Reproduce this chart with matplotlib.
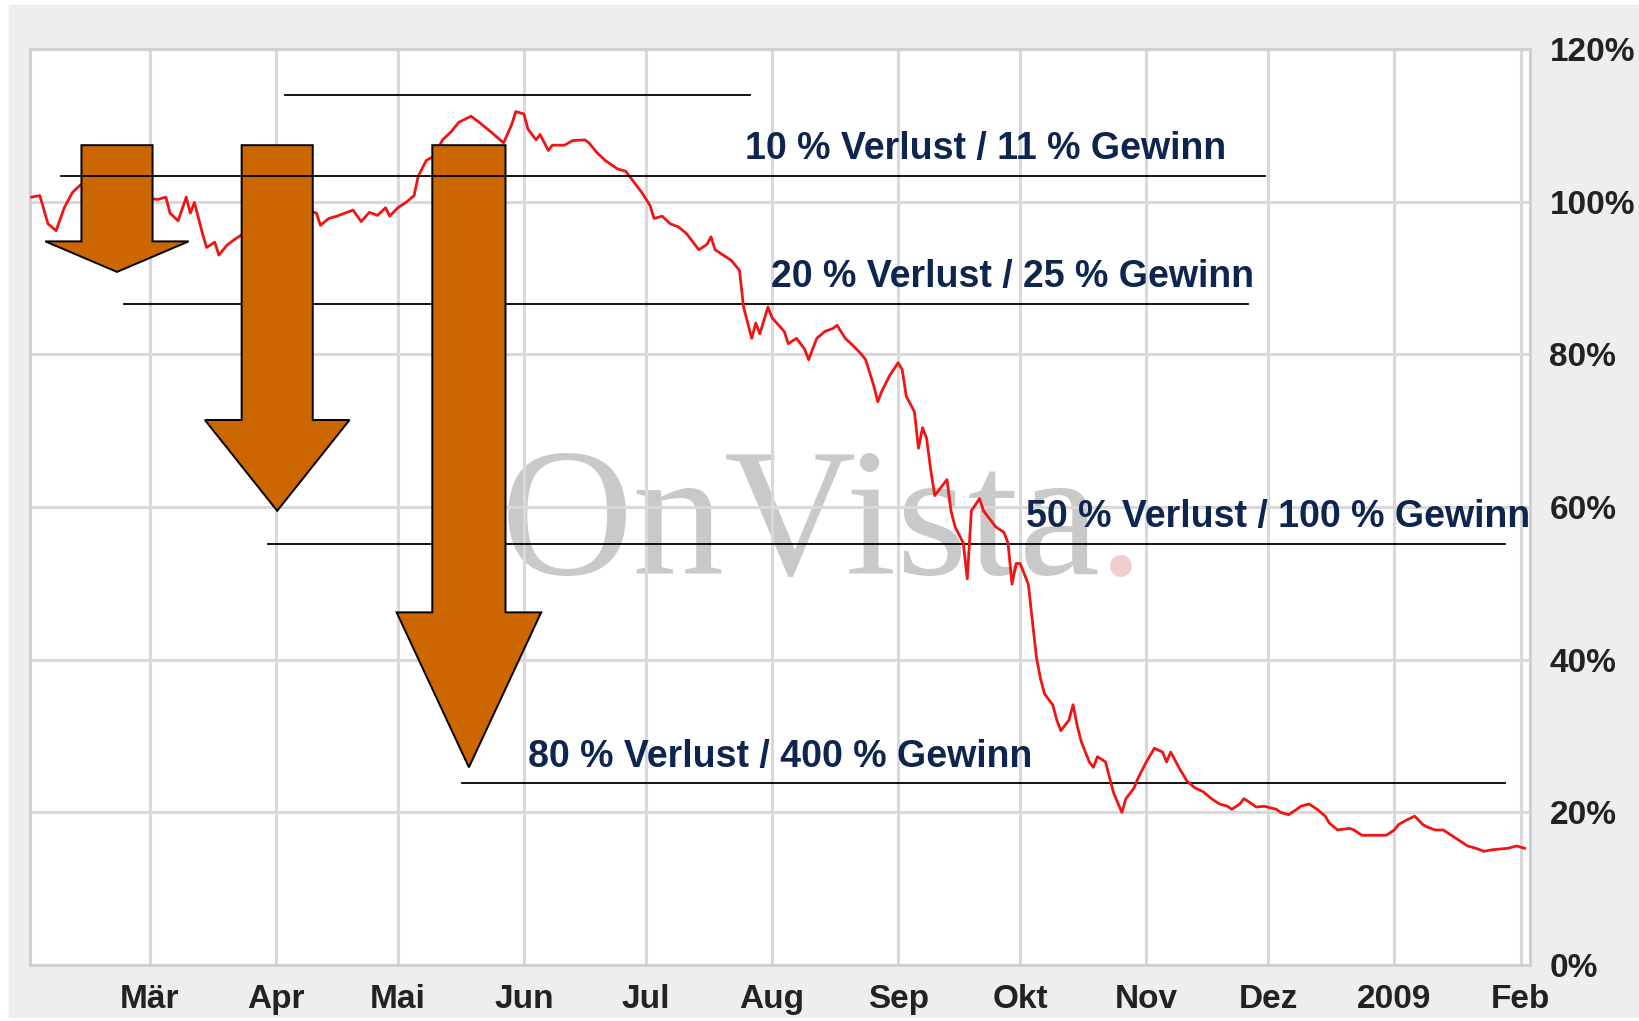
import numpy as np
import matplotlib
matplotlib.use("Agg")
import matplotlib.pyplot as plt
from matplotlib.patches import Polygon, Rectangle

# ------------------------------
# data: days since 2008-02-01, index level in %
# ------------------------------
day_offset = [
    0, 2, 4, 6, 8, 10, 12, 15, 19, 23,
    27, 31, 33, 34, 36, 38, 39, 40, 42, 43,
    45, 46, 48, 50, 52, 55, 59, 63, 67, 70,
    71, 73, 75, 77, 79, 81, 83, 85, 87, 88,
    90, 92, 94, 95, 97, 99, 101, 103, 105, 108,
    110, 113, 116, 118, 119, 121, 122, 124, 125, 127,
    128, 131, 133, 136, 137, 139, 141, 144, 146, 148,
    150, 152, 153, 155, 157, 159, 161, 162, 164, 166,
    167, 168, 170, 172, 174, 175, 177, 178, 179, 181,
    182, 185, 186, 188, 190, 191, 193, 195, 197, 198,
    200, 202, 204, 205, 207, 208, 209, 211, 213, 214,
    215, 217, 218, 219, 220, 221, 222, 224, 225, 226,
    227, 229, 230, 231, 233, 234, 236, 237, 239, 240,
    241, 242, 243, 245, 246, 247, 248, 249, 251, 252,
    253, 255, 256, 257, 258, 260, 261, 262, 264, 265,
    266, 268, 269, 271, 272, 274, 276, 278, 279, 280,
    282, 284, 286, 288, 290, 292, 294, 295, 297, 298,
    300, 301, 303, 306, 307, 309, 311, 312, 314, 316,
    318, 319, 321, 324, 325, 327, 329, 331, 333, 335,
    336, 338, 340, 342, 343, 345, 347, 349, 351, 353,
    355, 357, 359, 361, 363, 365, 367,
]
level = [
    100.6, 100.8, 97.1, 96.2, 99.2, 101.2, 102.2, 102.0, 101.5, 101.0,
    100.5, 100.3, 100.6, 98.5, 97.5, 100.6, 98.5, 99.9, 95.8, 94.0,
    94.7, 93.0, 94.3, 95.1, 95.8, 96.0, 97.5, 98.5, 99.0, 98.5,
    96.9, 97.8, 98.1, 98.5, 98.9, 97.4, 98.6, 98.2, 99.2, 98.1,
    99.2, 99.9, 100.8, 103.3, 105.4, 106.0, 108.1, 109.1, 110.4, 111.2,
    110.4, 109.1, 107.7, 110.1, 111.8, 111.5, 109.5, 108.1, 108.8, 106.7,
    107.4, 107.4, 108.0, 108.1, 107.7, 106.4, 105.4, 104.3, 104.0, 102.6,
    101.2, 99.5, 97.8, 98.1, 97.1, 96.7, 95.8, 95.1, 93.7, 94.4,
    95.4, 93.7, 93.0, 92.3, 91.0, 86.2, 82.1, 84.1, 82.7, 86.2,
    84.8, 83.0, 81.4, 82.1, 80.7, 79.3, 82.1, 83.0, 83.4, 83.8,
    82.1, 81.1, 80.0, 79.3, 75.9, 73.8, 75.2, 77.3, 78.9, 78.0,
    74.5, 72.5, 67.7, 70.4, 69.0, 64.9, 61.5, 62.9, 63.6, 59.5,
    57.4, 55.3, 50.6, 59.5, 61.1, 59.5, 58.1, 57.4, 56.7, 55.3,
    49.9, 52.6, 52.6, 49.9, 45.1, 40.3, 37.5, 35.5, 34.1, 32.1,
    30.7, 32.1, 34.1, 31.4, 29.3, 26.6, 25.9, 27.3, 26.6, 24.5,
    22.5, 20.0, 21.8, 23.2, 24.5, 26.6, 28.4, 27.9, 26.6, 27.9,
    25.9, 24.1, 23.2, 22.7, 21.8, 21.1, 20.8, 20.4, 21.1, 21.8,
    21.1, 20.7, 20.8, 20.4, 20.0, 19.7, 20.4, 20.8, 21.1, 20.4,
    19.5, 18.6, 17.7, 17.9, 17.7, 17.0, 17.0, 17.0, 17.0, 17.7,
    18.4, 19.0, 19.5, 18.4, 18.1, 17.7, 17.7, 17.0, 16.3, 15.6,
    15.3, 14.9, 15.1, 15.2, 15.3, 15.6, 15.3,
]

month_labels = ["Mär", "Apr", "Mai", "Jun", "Jul", "Aug", "Sep", "Okt",
                "Nov", "Dez", "2009", "Feb"]
y_ticks = [0, 20, 40, 60, 80, 100, 120]

# loss levels (drawn as black lines) and the texts
line_levels = [114.0, 103.4, 86.6, 55.2, 23.8]
loss_labels = ["10 % Verlust / 11 % Gewinn", "20 % Verlust / 25 % Gewinn",
               "50 % Verlust / 100 % Gewinn", "80 % Verlust / 400 % Gewinn"]

# arrows: (top, shaft bottom, tip) in %
arrow_top = [107.4, 107.4, 107.4]
arrow_base = [94.8, 71.4, 46.2]
arrow_tip = [90.8, 59.5, 25.9]

base = np.datetime64("2008-02-01")
dates = base + np.array(day_offset).astype("timedelta64[D]")

fig = plt.figure(figsize=(16.39, 10.21), dpi=100)
fig.patch.set_facecolor("white")
fig.patches.append(Rectangle((0.0055, 0.004), 0.9945, 0.991,
                             transform=fig.transFigure, color="#eeeeee", zorder=-5))

ax = fig.add_axes([0.0183, 0.0548, 0.9152, 0.8972])
ax.set_facecolor("white")

ax.set_xlim(base - np.timedelta64(10, "h"), base + np.timedelta64(368 * 24 + 8, "h"))
ax.set_ylim(0, 120)

# month grid
month_ticks = (np.datetime64("2008-03", "M") + np.arange(12)).astype("datetime64[D]")
ax.set_xticks(month_ticks)
ax.set_xticklabels(month_labels)
ax.set_yticks(y_ticks)
ax.set_yticklabels([f"{v}%" for v in y_ticks])
ax.yaxis.tick_right()
ax.tick_params(length=0, labelsize=24, colors="#222222")
ax.tick_params(axis="x", pad=14)
ax.tick_params(axis="y", pad=14)
for lab in ax.get_xticklabels() + ax.get_yticklabels():
    lab.set_family("Liberation Sans")
    lab.set_fontweight("bold")

ax.set_axisbelow(True)
ax.grid(True, color="#d9d9d9", linewidth=2.2)
for sp in ax.spines.values():
    sp.set_color("#d0d0d0")
    sp.set_linewidth(2.2)

# watermark
ax.text(0.314, 0.427, "OnVista", transform=ax.transAxes, fontsize=132,
        family="Liberation Serif", color="#c9c9c9", va="baseline", ha="left", zorder=0.2)
ax.text(0.712, 0.427, ".", transform=ax.transAxes, fontsize=132,
        family="Liberation Serif", color="#f2cdcd", va="baseline", ha="left", zorder=0.2)

# price line
ax.plot(dates, level, color="#f01414", linewidth=2.0, zorder=2.6)

# horizontal level lines (x extent in axes fraction)
line_extent = [(0.170, 0.480), (0.021, 0.823), (0.063, 0.812), (0.159, 0.983), (0.288, 0.983)]
line_z = [2.5, 4, 2.5, 2.5, 2.5]
for lv, (x0, x1), z in zip(line_levels, line_extent, line_z):
    ax.axhline(lv, x0, x1, color="black", linewidth=1.3, zorder=z)

# orange arrows
ytr = ax.get_yaxis_transform()
arrow_x = [0.058, 0.1648, 0.2926]
shaft_w = [0.0237, 0.0237, 0.0244]
head_w = [0.0478, 0.0482, 0.0482]
for cx, sw, hw, top, bot, tip in zip(arrow_x, shaft_w, head_w, arrow_top, arrow_base, arrow_tip):
    pts = [(cx - sw, top), (cx + sw, top), (cx + sw, bot), (cx + hw, bot),
           (cx, tip), (cx - hw, bot), (cx - sw, bot)]
    ax.add_patch(Polygon(pts, closed=True, transform=ytr, facecolor="#cc6600",
                         edgecolor="black", linewidth=1.4, zorder=3))

# loss / gain texts
text_x = [0.477, 0.494, 0.664, 0.332]
text_y = [106.9, 90.1, 58.7, 27.2]
for tx, ty, s in zip(text_x, text_y, loss_labels):
    ax.text(tx, ty, s, transform=ytr, fontsize=27, fontweight="bold",
            family="Liberation Sans", color="#0e2550", va="center", ha="left", zorder=5)

fig.savefig("out.png", dpi=100)
